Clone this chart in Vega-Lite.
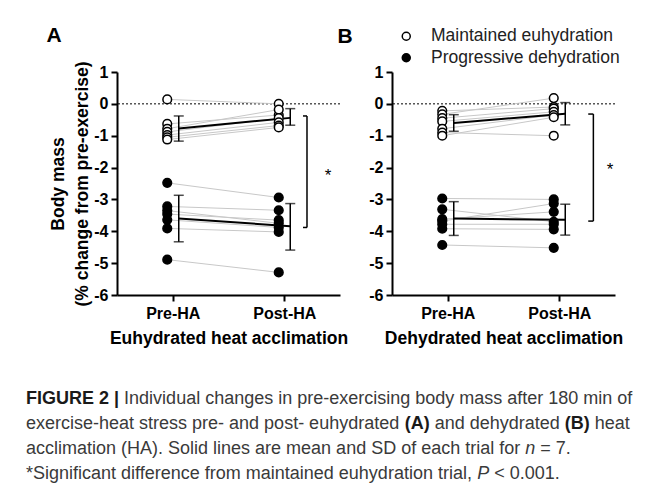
{
  "$schema": "https://vega.github.io/schema/vega-lite/v6.json",
  "background": "white",
  "padding": {"left": 26, "top": 25, "right": 5, "bottom": 0},
  "config": {
    "font": "Liberation Sans",
    "view": {"stroke": null},
    "axis": {
      "grid": false, "domainColor": "black", "domainWidth": 2, "tickColor": "black", "tickWidth": 2, "tickSize": 6,
      "labelFont": "Liberation Sans", "labelFontSize": 16, "labelFontWeight": "bold", "labelColor": "black", "labelOverlap": false,
      "titleFont": "Liberation Sans", "titleFontSize": 17.5, "titleFontWeight": "bold", "titleColor": "black"
    }
  },
  "datasets": {
    "subjects": [
      {"panel": "A", "group": "Maintained euhydration", "id": 1, "t": 0, "value": 0.14},
      {"panel": "A", "group": "Maintained euhydration", "id": 1, "t": 1, "value": 0.0},
      {"panel": "A", "group": "Maintained euhydration", "id": 2, "t": 0, "value": -0.63},
      {"panel": "A", "group": "Maintained euhydration", "id": 2, "t": 1, "value": -0.35},
      {"panel": "A", "group": "Maintained euhydration", "id": 3, "t": 0, "value": -0.78},
      {"panel": "A", "group": "Maintained euhydration", "id": 3, "t": 1, "value": -0.18},
      {"panel": "A", "group": "Maintained euhydration", "id": 4, "t": 0, "value": -0.88},
      {"panel": "A", "group": "Maintained euhydration", "id": 4, "t": 1, "value": -0.45},
      {"panel": "A", "group": "Maintained euhydration", "id": 5, "t": 0, "value": -0.98},
      {"panel": "A", "group": "Maintained euhydration", "id": 5, "t": 1, "value": -0.58},
      {"panel": "A", "group": "Maintained euhydration", "id": 6, "t": 0, "value": -1.05},
      {"panel": "A", "group": "Maintained euhydration", "id": 6, "t": 1, "value": -0.68},
      {"panel": "A", "group": "Maintained euhydration", "id": 7, "t": 0, "value": -1.12},
      {"panel": "A", "group": "Maintained euhydration", "id": 7, "t": 1, "value": -0.74},
      {"panel": "A", "group": "Progressive dehydration", "id": 1, "t": 0, "value": -2.48},
      {"panel": "A", "group": "Progressive dehydration", "id": 1, "t": 1, "value": -2.94},
      {"panel": "A", "group": "Progressive dehydration", "id": 2, "t": 0, "value": -3.22},
      {"panel": "A", "group": "Progressive dehydration", "id": 2, "t": 1, "value": -3.34},
      {"panel": "A", "group": "Progressive dehydration", "id": 3, "t": 0, "value": -3.35},
      {"panel": "A", "group": "Progressive dehydration", "id": 3, "t": 1, "value": -3.75},
      {"panel": "A", "group": "Progressive dehydration", "id": 4, "t": 0, "value": -3.46},
      {"panel": "A", "group": "Progressive dehydration", "id": 4, "t": 1, "value": -3.65},
      {"panel": "A", "group": "Progressive dehydration", "id": 5, "t": 0, "value": -3.64},
      {"panel": "A", "group": "Progressive dehydration", "id": 5, "t": 1, "value": -3.88},
      {"panel": "A", "group": "Progressive dehydration", "id": 6, "t": 0, "value": -3.91},
      {"panel": "A", "group": "Progressive dehydration", "id": 6, "t": 1, "value": -4.02},
      {"panel": "A", "group": "Progressive dehydration", "id": 7, "t": 0, "value": -4.89},
      {"panel": "A", "group": "Progressive dehydration", "id": 7, "t": 1, "value": -5.29},
      {"panel": "B", "group": "Maintained euhydration", "id": 1, "t": 0, "value": -0.22},
      {"panel": "B", "group": "Maintained euhydration", "id": 1, "t": 1, "value": -0.1},
      {"panel": "B", "group": "Maintained euhydration", "id": 2, "t": 0, "value": -0.33},
      {"panel": "B", "group": "Maintained euhydration", "id": 2, "t": 1, "value": 0.18},
      {"panel": "B", "group": "Maintained euhydration", "id": 3, "t": 0, "value": -0.45},
      {"panel": "B", "group": "Maintained euhydration", "id": 3, "t": 1, "value": -0.15},
      {"panel": "B", "group": "Maintained euhydration", "id": 4, "t": 0, "value": -0.55},
      {"panel": "B", "group": "Maintained euhydration", "id": 4, "t": 1, "value": -0.25},
      {"panel": "B", "group": "Maintained euhydration", "id": 5, "t": 0, "value": -0.78},
      {"panel": "B", "group": "Maintained euhydration", "id": 5, "t": 1, "value": -0.35},
      {"panel": "B", "group": "Maintained euhydration", "id": 6, "t": 0, "value": -0.9},
      {"panel": "B", "group": "Maintained euhydration", "id": 6, "t": 1, "value": -1.0},
      {"panel": "B", "group": "Maintained euhydration", "id": 7, "t": 0, "value": -1.0},
      {"panel": "B", "group": "Maintained euhydration", "id": 7, "t": 1, "value": -0.42},
      {"panel": "B", "group": "Progressive dehydration", "id": 1, "t": 0, "value": -2.97},
      {"panel": "B", "group": "Progressive dehydration", "id": 1, "t": 1, "value": -3.0},
      {"panel": "B", "group": "Progressive dehydration", "id": 2, "t": 0, "value": -3.31},
      {"panel": "B", "group": "Progressive dehydration", "id": 2, "t": 1, "value": -3.7},
      {"panel": "B", "group": "Progressive dehydration", "id": 3, "t": 0, "value": -3.62},
      {"panel": "B", "group": "Progressive dehydration", "id": 3, "t": 1, "value": -3.39},
      {"panel": "B", "group": "Progressive dehydration", "id": 4, "t": 0, "value": -3.68},
      {"panel": "B", "group": "Progressive dehydration", "id": 4, "t": 1, "value": -3.13},
      {"panel": "B", "group": "Progressive dehydration", "id": 5, "t": 0, "value": -3.78},
      {"panel": "B", "group": "Progressive dehydration", "id": 5, "t": 1, "value": -3.78},
      {"panel": "B", "group": "Progressive dehydration", "id": 6, "t": 0, "value": -3.92},
      {"panel": "B", "group": "Progressive dehydration", "id": 6, "t": 1, "value": -3.94},
      {"panel": "B", "group": "Progressive dehydration", "id": 7, "t": 0, "value": -4.43},
      {"panel": "B", "group": "Progressive dehydration", "id": 7, "t": 1, "value": -4.52}
    ],
    "means": [
      {"panel": "A", "group": "Maintained euhydration", "t": 0, "mean": -0.77, "lo": -1.17, "hi": -0.38},
      {"panel": "A", "group": "Maintained euhydration", "t": 1, "mean": -0.44, "lo": -0.67, "hi": -0.15},
      {"panel": "A", "group": "Progressive dehydration", "t": 0, "mean": -3.6, "lo": -4.33, "hi": -2.87},
      {"panel": "A", "group": "Progressive dehydration", "t": 1, "mean": -3.84, "lo": -4.59, "hi": -3.13},
      {"panel": "B", "group": "Maintained euhydration", "t": 0, "mean": -0.6, "lo": -0.86, "hi": -0.34},
      {"panel": "B", "group": "Maintained euhydration", "t": 1, "mean": -0.31, "lo": -0.66, "hi": 0.04},
      {"panel": "B", "group": "Progressive dehydration", "t": 0, "mean": -3.6, "lo": -4.13, "hi": -3.07},
      {"panel": "B", "group": "Progressive dehydration", "t": 1, "mean": -3.64, "lo": -4.12, "hi": -3.15}
    ],
    "refline": [
      {"panel": "A", "ref": 0},
      {"panel": "B", "ref": 0}
    ],
    "bracket": [
      {"panel": "A", "x1": 1.204, "x2": 1.204, "y1": -0.38, "y2": -3.88},
      {"panel": "A", "x1": 1.168, "x2": 1.204, "y1": -0.38, "y2": -0.38},
      {"panel": "A", "x1": 1.168, "x2": 1.204, "y1": -3.88, "y2": -3.88},
      {"panel": "B", "x1": 1.306, "x2": 1.306, "y1": -0.32, "y2": -3.68},
      {"panel": "B", "x1": 1.26, "x2": 1.306, "y1": -0.32, "y2": -0.32},
      {"panel": "B", "x1": 1.26, "x2": 1.306, "y1": -3.68, "y2": -3.68}
    ],
    "star": [
      {"panel": "A", "x": 1.392, "y": -2.13, "label": "*"},
      {"panel": "B", "x": 1.455, "y": -1.95, "label": "*"}
    ],
    "panelLabel": [
      {"panel": "A", "x": -1.065, "y": 2.12, "label": "A"},
      {"panel": "B", "x": -0.92, "y": 2.1, "label": "B"}
    ],
    "caption": [
      {"line": 1, "seg": "1a", "text": "FIGURE 2 |"},
      {"line": 1, "seg": "1b", "text": "Individual changes in pre-exercising body mass after 180 min of"},
      {"line": 2, "seg": "2a", "text": "exercise-heat stress pre- and post- euhydrated"},
      {"line": 2, "seg": "2b", "text": "(A)"},
      {"line": 2, "seg": "2c", "text": "and dehydrated"},
      {"line": 2, "seg": "2d", "text": "(B)"},
      {"line": 2, "seg": "2e", "text": "heat"},
      {"line": 3, "seg": "3a", "text": "acclimation (HA). Solid lines are mean and SD of each trial for"},
      {"line": 3, "seg": "3b", "text": "n"},
      {"line": 3, "seg": "3c", "text": "= 7."},
      {"line": 4, "seg": "4a", "text": "*Significant difference from maintained euhydration trial,"},
      {"line": 4, "seg": "4b", "text": "P"},
      {"line": 4, "seg": "4c", "text": "< 0.001."}
    ]
  },
  "bounds": "flush",
  "columns": 2,
  "spacing": {"row": 96, "column": 52},
  "resolve": {"legend": {"fill": "independent"}},
  "concat": [
    {
      "width": 223, "height": 223,
      "layer": [
        {
          "data": {"name": "refline"}, "transform": [{"filter": "datum.panel == 'A'"}],
          "mark": {"type": "rule", "color": "black", "strokeWidth": 1, "strokeDash": [2, 2]},
          "encoding": {"y": {"field": "ref", "type": "quantitative", "scale": {"domain": [-6, 1], "nice": false, "zero": false}}}
        },
        {
          "data": {"name": "subjects"}, "transform": [{"filter": "datum.panel == 'A'"}],
          "mark": {"type": "line", "color": "#c8c8c8", "strokeWidth": 1, "xOffset": -5.5},
          "encoding": {
            "x": {"field": "t", "type": "quantitative", "scale": {"domain": [-0.5, 1.5], "nice": false, "zero": false},
              "axis": {"values": [0, 1], "labelExpr": "datum.value == 0 ? 'Pre-HA' : 'Post-HA'", "labelOverlap": false, "title": "Euhydrated heat acclimation", "labelPadding": 4, "titlePadding": 8}},
            "y": {"field": "value", "type": "quantitative",
              "axis": {"values": [-6, -5, -4, -3, -2, -1, 0, 1], "tickCount": 8, "labelExpr": "'' + datum.value", "labelOverlap": false, "labelFlush": false, "title": ["Body mass", "(% change from pre-exercise)"], "titleLineHeight": 24, "titlePadding": 2, "labelPadding": 3}},
            "detail": [{"field": "group"}, {"field": "id"}]
          }
        },
        {
          "data": {"name": "means"}, "transform": [{"filter": "datum.panel == 'A'"}],
          "mark": {"type": "line", "color": "black", "strokeWidth": 2, "xOffset": 6},
          "encoding": {
            "x": {"field": "t", "type": "quantitative"},
            "y": {"field": "mean", "type": "quantitative"},
            "detail": {"field": "group"}
          }
        },
        {
          "data": {"name": "means"}, "transform": [{"filter": "datum.panel == 'A'"}],
          "mark": {"type": "rule", "color": "black", "strokeWidth": 1.5, "xOffset": 6},
          "encoding": {
            "x": {"field": "t", "type": "quantitative"},
            "y": {"field": "lo", "type": "quantitative"},
            "y2": {"field": "hi"}
          }
        },
        {
          "data": {"name": "means"}, "transform": [{"filter": "datum.panel == 'A'"}, {"fold": ["lo", "hi"], "as": ["end", "v"]}],
          "mark": {"type": "tick", "orient": "horizontal", "color": "black", "size": 10, "thickness": 1.5, "xOffset": 6},
          "encoding": {
            "x": {"field": "t", "type": "quantitative"},
            "y": {"field": "v", "type": "quantitative"}
          }
        },
        {
          "data": {"name": "subjects"}, "transform": [{"filter": "datum.panel == 'A'"}],
          "mark": {"type": "point", "shape": "circle", "filled": true, "stroke": "black", "strokeWidth": 1.5, "size": 75, "opacity": 1, "xOffset": -5.5},
          "encoding": {
            "x": {"field": "t", "type": "quantitative"},
            "y": {"field": "value", "type": "quantitative"},
            "fill": {"field": "group", "type": "nominal", "scale": {"domain": ["Maintained euhydration", "Progressive dehydration"], "range": ["white", "black"]}, "legend": null}
          }
        },
        {
          "data": {"name": "bracket"}, "transform": [{"filter": "datum.panel == 'A'"}],
          "mark": {"type": "rule", "color": "black", "strokeWidth": 1.5},
          "encoding": {
            "x": {"field": "x1", "type": "quantitative"},
            "x2": {"field": "x2"},
            "y": {"field": "y1", "type": "quantitative"},
            "y2": {"field": "y2"}
          }
        },
        {
          "data": {"name": "star"}, "transform": [{"filter": "datum.panel == 'A'"}],
          "mark": {"type": "text", "fontSize": 17, "color": "black", "baseline": "middle", "dy": 4},
          "encoding": {
            "x": {"field": "x", "type": "quantitative"},
            "y": {"field": "y", "type": "quantitative"},
            "text": {"field": "label"}
          }
        },
        {
          "data": {"name": "panelLabel"}, "transform": [{"filter": "datum.panel == 'A'"}],
          "mark": {"type": "text", "fontSize": 21, "fontWeight": "bold", "color": "black", "baseline": "middle"},
          "encoding": {
            "x": {"field": "x", "type": "quantitative"},
            "y": {"field": "y", "type": "quantitative"},
            "text": {"field": "label"}
          }
        }
      ]
    },
    {
      "width": 223, "height": 223,
      "layer": [
        {
          "data": {"name": "refline"}, "transform": [{"filter": "datum.panel == 'B'"}],
          "mark": {"type": "rule", "color": "black", "strokeWidth": 1, "strokeDash": [2, 2]},
          "encoding": {"y": {"field": "ref", "type": "quantitative", "scale": {"domain": [-6, 1], "nice": false, "zero": false}}}
        },
        {
          "data": {"name": "subjects"}, "transform": [{"filter": "datum.panel == 'B'"}],
          "mark": {"type": "line", "color": "#c8c8c8", "strokeWidth": 1, "xOffset": -5.5},
          "encoding": {
            "x": {"field": "t", "type": "quantitative", "scale": {"domain": [-0.5, 1.5], "nice": false, "zero": false},
              "axis": {"values": [0, 1], "labelExpr": "datum.value == 0 ? 'Pre-HA' : 'Post-HA'", "labelOverlap": false, "title": "Dehydrated heat acclimation", "labelPadding": 4, "titlePadding": 8}},
            "y": {"field": "value", "type": "quantitative",
              "axis": {"values": [-6, -5, -4, -3, -2, -1, 0, 1], "tickCount": 8, "labelExpr": "'' + datum.value", "labelOverlap": false, "labelFlush": false, "title": null, "labelPadding": 3}},
            "detail": [{"field": "group"}, {"field": "id"}]
          }
        },
        {
          "data": {"name": "means"}, "transform": [{"filter": "datum.panel == 'B'"}],
          "mark": {"type": "line", "color": "black", "strokeWidth": 2, "xOffset": 6},
          "encoding": {
            "x": {"field": "t", "type": "quantitative"},
            "y": {"field": "mean", "type": "quantitative"},
            "detail": {"field": "group"}
          }
        },
        {
          "data": {"name": "means"}, "transform": [{"filter": "datum.panel == 'B'"}],
          "mark": {"type": "rule", "color": "black", "strokeWidth": 1.5, "xOffset": 6},
          "encoding": {
            "x": {"field": "t", "type": "quantitative"},
            "y": {"field": "lo", "type": "quantitative"},
            "y2": {"field": "hi"}
          }
        },
        {
          "data": {"name": "means"}, "transform": [{"filter": "datum.panel == 'B'"}, {"fold": ["lo", "hi"], "as": ["end", "v"]}],
          "mark": {"type": "tick", "orient": "horizontal", "color": "black", "size": 10, "thickness": 1.5, "xOffset": 6},
          "encoding": {
            "x": {"field": "t", "type": "quantitative"},
            "y": {"field": "v", "type": "quantitative"}
          }
        },
        {
          "data": {"name": "subjects"}, "transform": [{"filter": "datum.panel == 'B'"}],
          "mark": {"type": "point", "shape": "circle", "filled": true, "stroke": "black", "strokeWidth": 1.5, "size": 75, "opacity": 1, "xOffset": -5.5},
          "encoding": {
            "x": {"field": "t", "type": "quantitative"},
            "y": {"field": "value", "type": "quantitative"},
            "fill": {"field": "group", "type": "nominal", "scale": {"domain": ["Maintained euhydration", "Progressive dehydration"], "range": ["white", "black"]},
              "legend": {"orient": "none", "legendX": 5.5, "legendY": -44.5, "title": null, "symbolType": "circle", "symbolSize": 64, "symbolStrokeColor": "black", "symbolStrokeWidth": 1.5, "labelFont": "Liberation Sans", "labelFontSize": 17.5, "labelColor": "#222222", "labelOffset": 16, "labelLimit": 400, "rowPadding": 2.5, "padding": 0}}
          }
        },
        {
          "data": {"name": "bracket"}, "transform": [{"filter": "datum.panel == 'B'"}],
          "mark": {"type": "rule", "color": "black", "strokeWidth": 1.5},
          "encoding": {
            "x": {"field": "x1", "type": "quantitative"},
            "x2": {"field": "x2"},
            "y": {"field": "y1", "type": "quantitative"},
            "y2": {"field": "y2"}
          }
        },
        {
          "data": {"name": "star"}, "transform": [{"filter": "datum.panel == 'B'"}],
          "mark": {"type": "text", "fontSize": 17, "color": "black", "baseline": "middle", "dy": 4},
          "encoding": {
            "x": {"field": "x", "type": "quantitative"},
            "y": {"field": "y", "type": "quantitative"},
            "text": {"field": "label"}
          }
        },
        {
          "data": {"name": "panelLabel"}, "transform": [{"filter": "datum.panel == 'B'"}],
          "mark": {"type": "text", "fontSize": 21, "fontWeight": "bold", "color": "black", "baseline": "middle"},
          "encoding": {
            "x": {"field": "x", "type": "quantitative"},
            "y": {"field": "y", "type": "quantitative"},
            "text": {"field": "label"}
          }
        }
      ]
    },
    {
      "width": 1, "height": 100,
      "data": {"name": "caption"},
      "encoding": {
        "y": {"field": "line", "type": "ordinal", "scale": {"type": "point", "padding": 0.5}, "axis": null},
        "text": {"field": "text"}
      },
      "layer": [
        {"transform": [{"filter": {"field": "seg", "oneOf": ["2a", "3a", "4a"]}}], "mark": {"type": "text", "align": "left", "baseline": "alphabetic", "dx": -91.5, "fontSize": 18, "color": "#3a3a3a"}},
        {"transform": [{"filter": {"field": "seg", "equal": "1a"}}], "mark": {"type": "text", "align": "left", "baseline": "alphabetic", "dx": -91.5, "fontSize": 18, "fontWeight": "bold", "color": "#1a1a1a"}},
        {"transform": [{"filter": {"field": "seg", "equal": "1b"}}], "mark": {"type": "text", "align": "left", "baseline": "alphabetic", "dx": 6.6, "fontSize": 18, "color": "#3a3a3a"}},
        {"transform": [{"filter": {"field": "seg", "equal": "2b"}}], "mark": {"type": "text", "align": "left", "baseline": "alphabetic", "dx": 287.2, "fontSize": 18, "fontWeight": "bold", "color": "#1a1a1a"}},
        {"transform": [{"filter": {"field": "seg", "equal": "2c"}}], "mark": {"type": "text", "align": "left", "baseline": "alphabetic", "dx": 317.2, "fontSize": 18, "color": "#3a3a3a"}},
        {"transform": [{"filter": {"field": "seg", "equal": "2d"}}], "mark": {"type": "text", "align": "left", "baseline": "alphabetic", "dx": 447.3, "fontSize": 18, "fontWeight": "bold", "color": "#1a1a1a"}},
        {"transform": [{"filter": {"field": "seg", "equal": "2e"}}], "mark": {"type": "text", "align": "left", "baseline": "alphabetic", "dx": 477.3, "fontSize": 18, "color": "#3a3a3a"}},
        {"transform": [{"filter": {"field": "seg", "equal": "3b"}}], "mark": {"type": "text", "align": "left", "baseline": "alphabetic", "dx": 407.7, "fontSize": 18, "fontStyle": "italic", "color": "#3a3a3a"}},
        {"transform": [{"filter": {"field": "seg", "equal": "3c"}}], "mark": {"type": "text", "align": "left", "baseline": "alphabetic", "dx": 422.7, "fontSize": 18, "color": "#3a3a3a"}},
        {"transform": [{"filter": {"field": "seg", "equal": "4b"}}], "mark": {"type": "text", "align": "left", "baseline": "alphabetic", "dx": 359.7, "fontSize": 18, "fontStyle": "italic", "color": "#3a3a3a"}},
        {"transform": [{"filter": {"field": "seg", "equal": "4c"}}], "mark": {"type": "text", "align": "left", "baseline": "alphabetic", "dx": 376.7, "fontSize": 18, "color": "#3a3a3a"}}
      ]
    }
  ]
}
